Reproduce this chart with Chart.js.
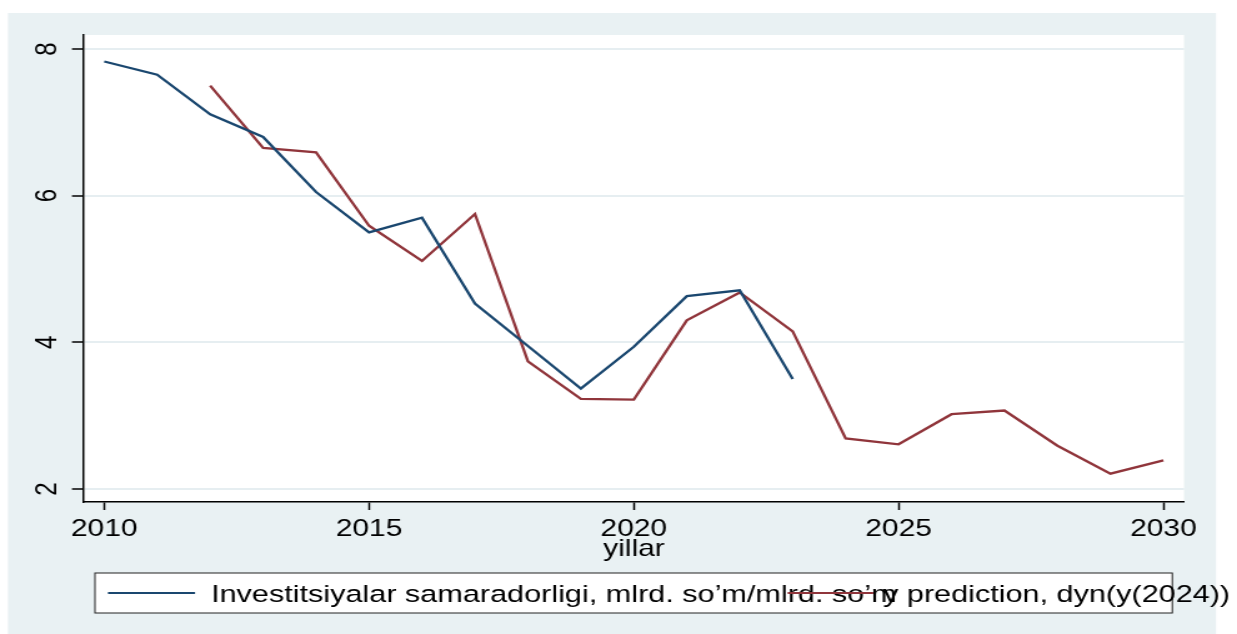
<!DOCTYPE html>
<html>
<head>
<meta charset="utf-8">
<script src="https://cdn.jsdelivr.net/npm/chart.js@4/dist/chart.umd.min.js"></script>
<style>
  html, body { margin: 0; padding: 0; background: #fff; }
</style>
</head>
<body>
<!-- drawn at 990 wide and stretched to 1237 like the original export -->
<canvas id="chart" width="990" height="634" style="width:1237px;height:634px;display:block"></canvas>
<script>
const years = [2010, 2011, 2012, 2013, 2014, 2015, 2016, 2017, 2018, 2019, 2020,
               2021, 2022, 2023, 2024, 2025, 2026, 2027, 2028, 2029, 2030];
const xTicks = [2010, 2015, 2020, 2025, 2030];
const yTicks = [2, 4, 6, 8];

// 2010-2023
const actual = [7.83, 7.65, 7.11, 6.80, 6.05, 5.50, 5.70, 4.53, 3.95, 3.37, 3.94, 4.63, 4.71, 3.50];
// 2012-2030
const prediction = [7.50, 6.65, 6.59, 5.59, 5.11, 5.75, 3.74, 3.23, 3.22, 4.30, 4.68, 4.15,
                    2.69, 2.61, 3.02, 3.07, 2.59, 2.21, 2.39];
const predictionStart = 2012;

const actualLabel = 'Investitsiyalar samaradorligi, mlrd. so’m/mlrd. so’m';
const predictionLabel = 'y prediction, dyn(y(2024))';
const xTitle = 'yillar';

const BLUE = '#1a476f';
const RED = '#90353b';
const BG = '#e9f1f3';
const FONT = '"Liberation Sans", Arial, sans-serif';

const offset = years.indexOf(predictionStart);

// backgrounds: outer panel + white plot region
const backgroundPlugin = {
  id: 'background',
  beforeDraw(chart) {
    const { ctx, chartArea } = chart;
    ctx.save();
    ctx.fillStyle = '#fff';
    ctx.fillRect(0, 0, chart.width, chart.height);
    ctx.fillStyle = BG;
    ctx.fillRect(6.4, 13, 966.8, 621);
    ctx.fillStyle = '#fff';
    ctx.fillRect(chartArea.left, chartArea.top, chartArea.right - chartArea.left, chartArea.bottom - chartArea.top);
    ctx.restore();
  }
};

// stata style legend, keys sit in fixed columns so the text overlaps
const legendPlugin = {
  id: 'stataLegend',
  afterDraw(chart) {
    const { ctx } = chart;
    const ds = chart.data.datasets;
    ctx.save();
    ctx.fillStyle = '#fff';
    ctx.fillRect(76, 573, 862.2, 40);
    ctx.strokeStyle = '#222';
    ctx.lineWidth = 1;
    ctx.strokeRect(76, 573, 862.2, 40);

    ctx.font = '24.5px ' + FONT;
    ctx.textBaseline = 'alphabetic';
    ctx.lineWidth = 2.2;

    ctx.strokeStyle = ds[0].borderColor;
    ctx.beginPath();
    ctx.moveTo(86.4, 593);
    ctx.lineTo(156.1, 593);
    ctx.stroke();
    ctx.fillStyle = '#000';
    ctx.fillText(ds[0].label, 168.9, 602);

    ctx.strokeStyle = ds[1].borderColor;
    ctx.beginPath();
    ctx.moveTo(630.4, 593);
    ctx.lineTo(698.9, 593);
    ctx.stroke();
    ctx.fillStyle = '#000';
    ctx.fillText(ds[1].label, 706.7, 602);
    ctx.restore();
  }
};

const ctx = document.getElementById('chart').getContext('2d');
new Chart(ctx, {
  type: 'line',
  data: {
    datasets: [{
      label: actualLabel,
      data: actual.map((v, i) => ({ x: years[i], y: v })),
      borderColor: BLUE,
      borderWidth: 2.3,
      pointRadius: 0,
      tension: 0
    }, {
      label: predictionLabel,
      data: prediction.map((v, i) => ({ x: years[i + offset], y: v })),
      borderColor: RED,
      borderWidth: 2.3,
      pointRadius: 0,
      tension: 0
    }]
  },
  options: {
    responsive: false,
    animation: false,
    devicePixelRatio: 1,
    layout: { padding: { left: 0, right: 42.4, top: 35, bottom: 70 } },
    plugins: {
      legend: { display: false },
      tooltip: { enabled: false }
    },
    scales: {
      x: {
        type: 'linear',
        min: 2009.617,
        max: 2030.39,
        afterBuildTicks: scale => { scale.ticks = xTicks.map(v => ({ value: v })); },
        afterFit: scale => { scale.height = 62; },
        ticks: {
          autoSkip: false,
          maxRotation: 0,
          minRotation: 0,
          padding: 5,
          color: '#000',
          font: { family: FONT, size: 24 },
          callback: v => String(v)
        },
        grid: {
          drawOnChartArea: false,
          tickLength: 8,
          tickColor: '#000',
          tickWidth: 1.5
        },
        border: { display: true, color: '#000', width: 1.5 },
        title: {
          display: true,
          text: xTitle,
          color: '#000',
          font: { family: FONT, size: 24 },
          padding: 0
        }
      },
      y: {
        type: 'linear',
        min: 1.823,
        max: 8.191,
        afterBuildTicks: scale => { scale.ticks = yTicks.map(v => ({ value: v })); },
        afterFit: scale => { scale.width = 67.2; },
        ticks: {
          autoSkip: false,
          minRotation: 90,
          maxRotation: 90,
          crossAlign: 'center',
          padding: 12.6,
          color: '#000',
          font: { family: FONT, size: 24 },
          callback: v => String(v)
        },
        grid: {
          color: '#e6eef1',
          lineWidth: 2,
          tickLength: 9.6,
          tickColor: '#000',
          tickWidth: 1.5
        },
        border: { display: true, color: '#000', width: 1.5 }
      }
    }
  },
  plugins: [backgroundPlugin, legendPlugin]
});
</script>
</body>
</html>
